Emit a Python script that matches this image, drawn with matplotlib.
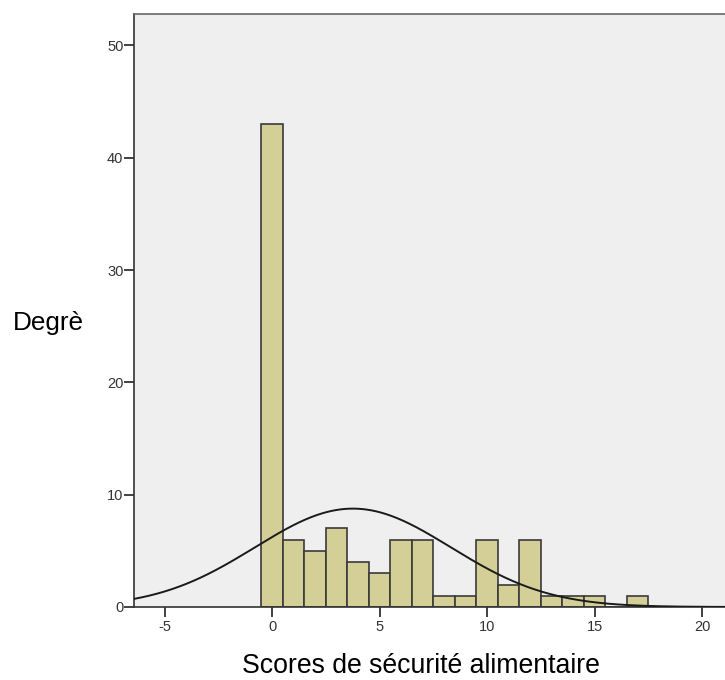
import numpy as np
import matplotlib
matplotlib.use("Agg")
import matplotlib.pyplot as plt
from matplotlib import font_manager

# Data (bin centres and counts)
scores = [0, 1, 2, 3, 4, 5, 6, 7, 8, 9, 10, 11, 12, 13, 14, 15, 16, 17]
counts = [43, 6, 5, 7, 4, 3, 6, 6, 1, 1, 6, 2, 6, 1, 1, 1, 0, 1]
x_ticks = [-5, 0, 5, 10, 15, 20]
y_ticks = [0, 10, 20, 30, 40, 50]

plt.rcParams['font.family'] = ['Liberation Sans', 'DejaVu Sans']
avail = {f.name for f in font_manager.fontManager.ttflist}
tick_family = 'Liberation Sans Narrow' if 'Liberation Sans Narrow' in avail else 'Liberation Sans'
tick_size = 12.5 if tick_family == 'Liberation Sans Narrow' else 10.5

fig = plt.figure(figsize=(7.25, 6.8), dpi=100)
ax = fig.add_axes([0.1855, 0.1074, 0.8145, 0.8720])
ax.set_facecolor('#efefef')

ax.bar(scores, counts, width=1.0, align='center', color='#d3cf97',
       edgecolor='#3a3a3a', linewidth=1.2, zorder=2)

# Normal curve fitted to the histogram data (as SPSS draws it)
s = np.array(scores, dtype=float)
c = np.array(counts, dtype=float)
n = c.sum()
mean = (s * c).sum() / n
sd = np.sqrt(((s - mean) ** 2 * c).sum() / (n - 1))
xx = np.linspace(-6.4, 21.1, 400)
yy = n * 1.0 / (sd * np.sqrt(2 * np.pi)) * np.exp(-(xx - mean) ** 2 / (2 * sd ** 2))
ax.plot(xx, yy, color='#1a1a1a', linewidth=1.4, zorder=3)

ax.set_xlim(-6.4, 21.07)
ax.set_ylim(0, 52.8)
ax.set_xticks(x_ticks)
ax.set_yticks(y_ticks)
ax.set_xticklabels([str(v) for v in x_ticks])
ax.set_yticklabels([str(v) for v in y_ticks])
ax.tick_params(axis='both', direction='out', length=7, width=1.3,
               colors='#333333', labelsize=tick_size)
ax.tick_params(axis='x', pad=2.5)
ax.tick_params(axis='y', pad=1)
for lab in ax.get_xticklabels() + ax.get_yticklabels():
    lab.set_family(tick_family)

for side in ['left', 'bottom']:
    ax.spines[side].set_color('#333333')
    ax.spines[side].set_linewidth(1.2)
ax.spines['top'].set_color('#666666')
ax.spines['top'].set_linewidth(1.2)
ax.spines['right'].set_visible(False)

fig.text(13 / 725, 1 - 323 / 680, 'Degrè', fontsize=18.8, ha='left', va='center')
fig.text(420.5 / 725, 1 - 673 / 680, 'Scores de sécurité alimentaire',
         fontsize=19.2, ha='center', va='baseline')

fig.savefig('out.png', dpi=100, facecolor='white')
